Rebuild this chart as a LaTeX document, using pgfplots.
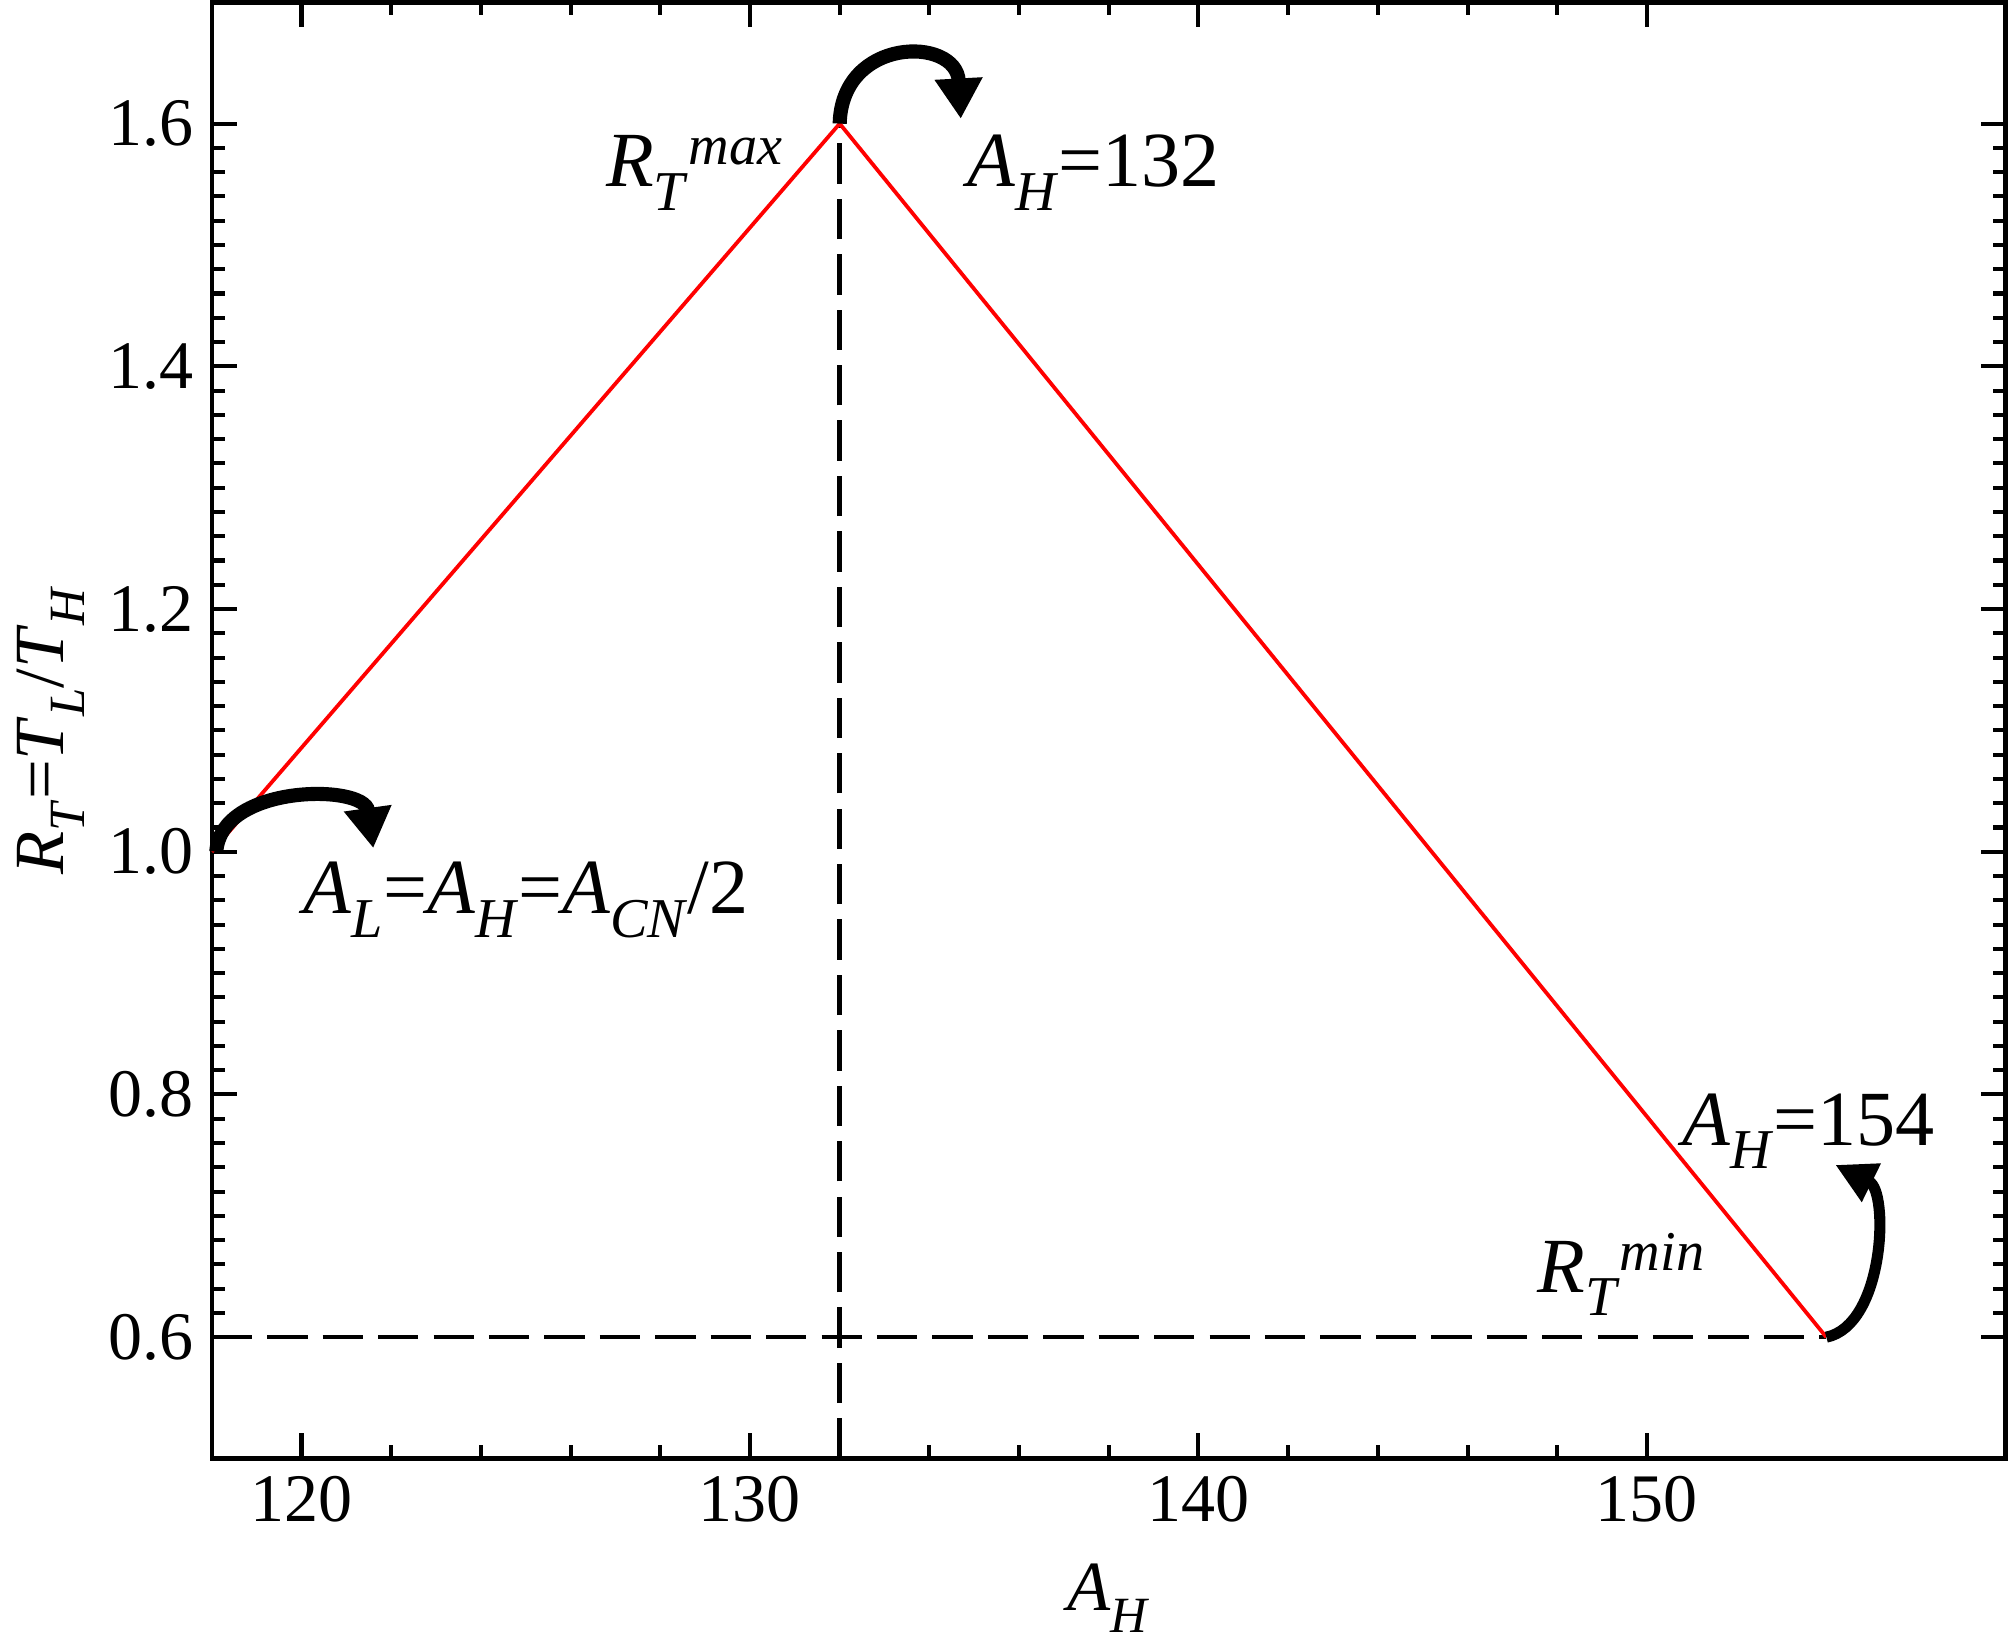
\documentclass[border=0pt]{standalone}
\usepackage{pgfplots}
\pgfplotsset{compat=1.18}
\usepackage{graphicx}
\usepackage{fontspec}
\setmainfont{Liberation Serif}
\usetikzlibrary{arrows.meta}
% italic symbol with a low italic subscript
\newcommand{\lo}[1]{\raisebox{-0.3em}{\scalebox{0.72}{\textit{#1}}}}
\newcommand{\hi}[1]{\raisebox{0.28em}{\scalebox{0.72}{\textit{#1}}}}
\newcommand{\sym}[2]{\textit{#1}\lo{#2}}

\begin{document}
\begin{tikzpicture}
\begin{axis}[
  scale only axis,
  width=356pt, height=289pt,
  xmin=118, xmax=158, ymin=0.5, ymax=1.7,
  xtick={120,130,140,150},
  ytick={0.6,0.8,1.0,1.2,1.4,1.6},
  minor x tick num=4, minor y tick num=9,
  tick align=inside,
  major tick length=5pt, minor tick length=2.6pt,
  tick style={black, line width=0.8pt},
  axis line style={line width=0.9pt},
  /pgf/number format/assume math mode=true,
  yticklabel style={/pgf/number format/fixed, /pgf/number format/fixed zerofill, /pgf/number format/precision=1},
  ticklabel style={font=\fontsize{13.5}{15}\selectfont},
  label style={font=\fontsize{14}{16}\selectfont},
  xlabel={\sym{A}{H}},
  ylabel={\sym{R}{T}=\sym{T}{L}/\sym{T}{H}},
  ylabel shift=-2pt,
  xlabel shift=1.5pt,
  clip=false,
]
% dashed guides
\addplot[black, line width=0.9pt, dash pattern=on 8pt off 3pt] coordinates {(132,0.5) (132,1.6)};
\addplot[black, line width=0.9pt, dash pattern=on 8pt off 3pt] coordinates {(118,0.6) (154,0.6)};
% ratio curve
\addplot[red, line width=0.75pt] coordinates {(118,1.0) (132,1.6) (154,0.6)};

% annotations
\begin{scope}[font=\fontsize{15.5}{18}\selectfont]
\node[anchor=base east, inner sep=0pt] at (axis cs:130.74,1.548) {\sym{R}{T}\hi{max}};
\node[anchor=base west, inner sep=0pt] at (axis cs:134.83,1.548) {\sym{A}{H}=132};
\node[anchor=base west, inner sep=0pt] at (axis cs:120.03,0.949) {\sym{A}{L}=\sym{A}{H}=\sym{A}{CN}/2};
\node[anchor=base west, inner sep=0pt] at (axis cs:150.77,0.758) {\sym{A}{H}=154};
\node[anchor=base west, inner sep=0pt] at (axis cs:147.54,0.637) {\sym{R}{T}\hi{min}};
\end{scope}
\draw[line width=2.8pt, -{Triangle[length=8pt,width=9pt]}]
  (axis cs:132,1.6) .. controls (axis cs:132.05,1.672) and (axis cs:134.6,1.672) .. (axis cs:134.7,1.604);
\draw[line width=2.8pt, -{Triangle[length=8pt,width=9pt]}]
  (axis cs:118.1,1.0) .. controls (axis cs:118.2,1.056) and (axis cs:121.4,1.056) .. (axis cs:121.6,1.003);
\draw[line width=2.2pt, -{Triangle[length=8pt,width=8pt]}]
  (axis cs:154,0.6) .. controls (axis cs:155.3,0.61) and (axis cs:155.4,0.72) .. (axis cs:154.2,0.742);
\end{axis}
\end{tikzpicture}
\end{document}
